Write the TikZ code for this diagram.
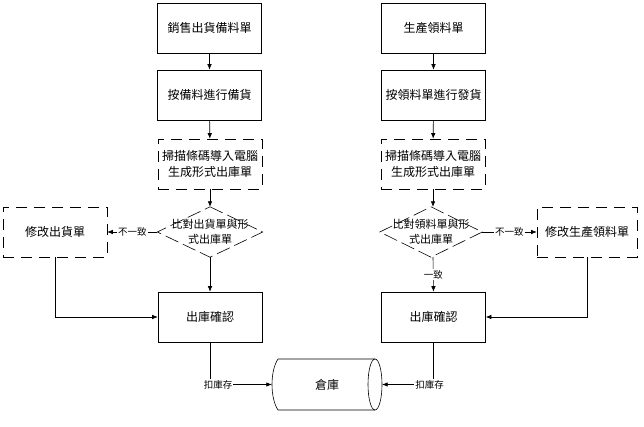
\documentclass[tikz,border=0pt]{standalone}
\usepackage{fontspec}
\setmainfont{Noto Sans CJK TC}
\usetikzlibrary{arrows.meta}
\tikzset{
  box/.style={draw, line width=0.6pt, minimum width=104pt, minimum height=50pt, inner sep=0pt, font=\fontsize{12}{16}\selectfont, align=center},
  dbox/.style={box, dash pattern=on 11pt off 7pt},
  dia/.style={minimum width=105pt, minimum height=50pt, inner sep=0pt, font=\fontsize{11}{15}\selectfont, align=center},
  dline/.style={line width=0.6pt, dash pattern=on 14pt off 5pt},
  arr/.style={line width=0.6pt, -{Latex[length=5.5pt,width=4.5pt]}},
  ln/.style={line width=0.6pt},
  lbl/.style={fill=white, inner sep=1pt, font=\fontsize{9.5}{11}\selectfont},
  cylbox/.style={minimum width=110pt, minimum height=51pt, inner sep=0pt, font=\fontsize{12}{14}\selectfont}
}
\begin{document}
\begin{tikzpicture}[x=1pt,y=-1pt]
\useasboundingbox (0,0) rectangle (644,427);
% left column
\node[box] (s1) at (209.5,28) {銷售出貨備料單};
\node[box] (s2) at (209.5,95) {按備料進行備貨};
\node[dbox] (s3) at (210,164) {掃描條碼導入電腦\\生成形式出庫單};
\node[dia] (d1) at (210,232) {比對出貨單與形\\式出庫單};
\draw[dline] (d1.north) -- (d1.east) -- (d1.south) -- (d1.west) -- cycle;
\node[dbox] (m1) at (55,232) {修改出貨單};
\node[box] (c1) at (210,317) {出庫確認};
% right column
\node[box] (r1) at (433.5,28) {生產領料單};
\node[box] (r2) at (433.5,95) {按領料單進行發貨};
\node[dbox] (r3) at (433,164) {掃描條碼導入電腦\\生成形式出庫單};
\node[dia, minimum width=102pt] (d2) at (431,232) {比對領料單與形\\式出庫單};
\draw[dline] (d2.north) -- (d2.east) -- (d2.south) -- (d2.west) -- cycle;
\node[dbox, minimum width=100pt] (m2) at (587,232) {修改生產領料單};
\node[box] (c2) at (433.5,317) {出庫確認};
% warehouse cylinder
\node[cylbox] (cyl) at (327,384.5) {倉庫};
\draw[ln] (375,359) -- (278,359) .. controls (270,371) and (270,398) .. (278,410) -- (375,410);
\draw[ln] (375,384.5) ellipse[x radius=7pt, y radius=25.5pt];
% connectors left
\draw[arr] (s1) -- (s2);
\draw[arr] (s2) -- (s3);
\draw[arr] (s3) -- (d1.north);
\draw[arr] (d1.west) -- node[lbl] {不一致} (m1.east);
\draw[arr] (d1.south) -- (c1.north);
\draw[arr] (m1.south) |- (c1.west);
\draw[arr] (c1.south) |- node[pos=0.5, lbl, xshift=8pt] {扣庫存} (cyl.west);
% connectors right
\draw[arr] (r1) -- (r2);
\draw[arr] (r2) -- (r3);
\draw[arr] (r3.south) -- (r3.south |- d2.north);
\draw[arr] (d2.east) -- node[lbl] {不一致} (m2.west);
\draw[arr] (r3.south |- d2.south) -- node[lbl] {一致} (c2.north);
\draw[arr] (m2.south) |- (c2.east);
\draw[arr] (c2.south) |- node[pos=0.5, lbl, xshift=-4pt] {扣庫存} (cyl.east);
\end{tikzpicture}
\end{document}
